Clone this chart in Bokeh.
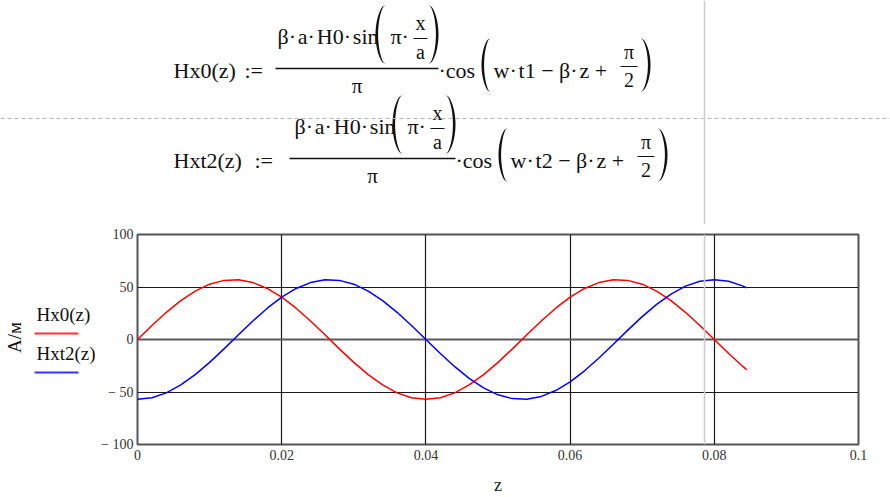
import numpy as np
from bokeh.plotting import figure
from bokeh.layouts import column, row
from bokeh.models import (Range1d, FixedTicker, CustomJSTickFormatter,
                          BoxAnnotation, Span)
from bokeh.core.properties import value
from bokeh.embed import file_html
from bokeh.resources import INLINE

# ---------------- data ----------------
z = [0.000, 0.002, 0.004, 0.006, 0.008, 0.010, 0.012, 0.014, 0.016, 0.018,
     0.020, 0.022, 0.024, 0.026, 0.028, 0.030, 0.032, 0.034, 0.036, 0.038,
     0.040, 0.042, 0.044, 0.046, 0.048, 0.050, 0.052, 0.054, 0.056, 0.058,
     0.060, 0.062, 0.064, 0.066, 0.068, 0.070, 0.072, 0.074, 0.076, 0.078,
     0.080, 0.082, 0.084, 0.0845]
hx0 = [0.0, 13.3, 25.9, 37.0, 46.1, 52.7, 56.3, 56.8, 54.2, 48.6,
       40.3, 29.8, 17.6, 4.5, -8.9, -21.8, -33.5, -43.3, -50.8, -55.4,
       -57.0, -55.4, -50.8, -43.3, -33.5, -21.8, -8.9, 4.5, 17.6, 29.8,
       40.3, 48.6, 54.2, 56.8, 56.3, 52.7, 46.1, 37.0, 25.9, 13.3,
       0.0, -13.3, -25.9, -28.8]
hxt2 = [-57.0, -55.4, -50.8, -43.3, -33.5, -21.8, -8.9, 4.5, 17.6, 29.8,
        40.3, 48.6, 54.2, 56.8, 56.3, 52.7, 46.1, 37.0, 25.9, 13.3,
        0.0, -13.3, -25.9, -37.0, -46.1, -52.7, -56.3, -56.8, -54.2, -48.6,
        -40.3, -29.8, -17.6, -4.5, 8.9, 21.8, 33.5, 43.3, 50.8, 55.4,
        57.0, 55.4, 50.8, 49.1]
series_names = ["Hx0(z)", "Hxt2(z)"]
series_colors = ["#ff0000", "#0000ff"]
x_ticks = [0, 0.02, 0.04, 0.06, 0.08, 0.1]
y_ticks = [-100, -50, 0, 50, 100]
x_label = "z"
y_label = "A/м"

SERIF = "Liberation Serif"
INK = "#111111"
HS = "\u200a"          # hair space after the multiplication dots
DOT = "·" + HS

# page geometry (pixels)
TOP_H = 224
CH_LEFT, CH_RIGHT, CH_TOP, CH_BOTTOM = 42, 32, 10, 53
LEFT_W = 95
PAGE_W, PAGE_H = 890, 497

# ---------------- formula area ----------------
top = figure(width=PAGE_W, height=TOP_H,
             x_range=Range1d(0, PAGE_W), y_range=Range1d(TOP_H, 0),
             x_axis_type=None, y_axis_type=None, toolbar_location=None,
             output_backend="svg", min_border=0, outline_line_color=None)
top.grid.visible = False
top.border_fill_color = "white"


def txt(fig, x, y, s, size, align="left", angle=0.0, baseline="alphabetic"):
    fig.text(x=[x], y=[y], text=[s], text_font=value(SERIF),
             text_font_size=f"{size}px", text_align=align, angle=angle,
             text_baseline=baseline, text_color=INK)


def hbar(x0, x1, y, w=1.3):
    top.segment(x0=[x0], y0=[y], x1=[x1], y1=[y], line_color=INK, line_width=w)


def paren(xl, xr, ytop, ybot, left=True, thick=2.6):
    t = np.linspace(0.0, 1.0, 48)
    ys = ytop + (ybot - ytop) * t
    b = np.sin(np.pi * t) ** 0.55
    span = xr - xl
    if left:
        outer = xr - span * b
        inner = outer + 0.5 + (thick - 0.5) * b
    else:
        outer = xl + span * b
        inner = outer - 0.5 - (thick - 0.5) * b
    xs = np.concatenate([outer, inner[::-1]])
    yy = np.concatenate([ys, ys[::-1]])
    top.patch(xs, yy, fill_color=INK, line_color=None)


def formula(lhs, lhs_x, assign_x, tname, dx, dy, bar_x0):
    base = 70 + dy
    txt(top, lhs_x, base, lhs, 22)
    txt(top, assign_x, base, ":=", 22)
    hbar(bar_x0, 438 + dx, 68 + dy)
    txt(top, 277 + dx, 36 + dy, f"β{DOT}a{DOT}H0{DOT}sin", 22)
    paren(375 + dx, 384 + dx, 5 + dy, 63 + dy, True)
    txt(top, 390 + dx, 36 + dy, "π" + DOT, 22)
    hbar(413 + dx, 427 + dx, 38 + dy, 1.1)
    txt(top, 420 + dx, 22 + dy, "x", 20, "center")
    txt(top, 420 + dx, 51 + dy, "a", 20, "center")
    paren(429 + dx, 438 + dx, 5 + dy, 63 + dy, False)
    txt(top, (bar_x0 + 438 + dx) / 2, 85 + dy, "π", 21, "center")
    txt(top, 438 + dx, base, "·cos", 22)
    paren(481 + dx, 489 + dx, 38 + dy, 91 + dy, True)
    txt(top, 493 + dx, base, f"w{DOT}{tname} − β{DOT}z +", 22)
    hbar(620 + dx, 637 + dx, 66 + dy, 1.1)
    txt(top, 628.5 + dx, 51 + dy, "π", 20, "center")
    txt(top, 628.5 + dx, 79 + dy, "2", 20, "center")
    paren(641 + dx, 650 + dx, 38 + dy, 91 + dy, False)


formula("Hx0(z)", 173, 244, "t1", 0, 0, 275)
formula("Hxt2(z)", 173, 254, "t2", 17, 90, 289)

top.segment(x0=[0], y0=[118], x1=[PAGE_W], y1=[118], line_color="#b4b4b4",
            line_width=1, line_dash="4 3")
top.segment(x0=[704], y0=[0], x1=[704], y1=[TOP_H], line_color="#cccccc", line_width=1.5)

# ---------------- left strip: axis title and legend ----------------
leftfig = figure(width=LEFT_W, height=PAGE_H - TOP_H,
                 x_range=Range1d(0, LEFT_W),
                 y_range=Range1d(PAGE_H - CH_BOTTOM, TOP_H + CH_TOP),
                 x_axis_type=None, y_axis_type=None, toolbar_location=None,
                 output_backend="svg", min_border_left=0, min_border_right=0,
                 min_border_top=CH_TOP, min_border_bottom=CH_BOTTOM,
                 outline_line_color=None)
leftfig.grid.visible = False
leftfig.border_fill_color = "white"
txt(leftfig, 14, 337, y_label, 19, "center", angle=np.pi / 2, baseline="middle")
for i, (name, col) in enumerate(zip(series_names, series_colors)):
    yc = 314 + 39 * i
    txt(leftfig, 36, yc, name, 19)
    leftfig.segment(x0=[34], y0=[yc + 19], x1=[78], y1=[yc + 19],
                    line_color=col, line_width=2, line_alpha=0.8)

# ---------------- chart ----------------
p = figure(width=PAGE_W - LEFT_W, height=PAGE_H - TOP_H,
           x_range=Range1d(0, 0.1), y_range=Range1d(-100, 100),
           toolbar_location=None, output_backend="svg",
           min_border_left=CH_LEFT, min_border_right=CH_RIGHT,
           min_border_top=CH_TOP, min_border_bottom=CH_BOTTOM)
p.border_fill_color = "white"
p.outline_line_color = "#555555"
p.outline_line_width = 2

for xs_, ys_, c in zip([z, z], [hx0, hxt2], series_colors):
    p.line(xs_, ys_, line_color=c, line_width=1.5)

for ax in (p.xaxis[0], p.yaxis[0]):
    ax.axis_line_color = None
    ax.major_tick_line_color = None
    ax.minor_tick_line_color = None
    ax.major_tick_out = 0
    ax.major_tick_in = 0
    ax.minor_tick_out = 0
    ax.major_label_text_font = SERIF
    ax.major_label_text_font_size = "14px"
    ax.major_label_text_color = "#333333"
    ax.axis_label_text_font = SERIF
    ax.axis_label_text_font_style = "normal"
    ax.axis_label_text_color = "#222222"

p.xaxis.ticker = FixedTicker(ticks=x_ticks)
p.yaxis.ticker = FixedTicker(ticks=y_ticks)
p.xaxis.formatter = CustomJSTickFormatter(code="return Number(tick.toFixed(4)).toString();")
p.yaxis.formatter = CustomJSTickFormatter(
    code="return tick < 0 ? '\u2212 ' + Math.abs(tick) : String(tick);")
p.xaxis.major_label_standoff = 5
p.yaxis.major_label_standoff = 4
p.xaxis.axis_label = x_label
p.xaxis.axis_label_text_font_size = "18px"
p.xaxis.axis_label_standoff = 12

p.xgrid.ticker = FixedTicker(ticks=x_ticks)
p.ygrid.ticker = FixedTicker(ticks=y_ticks)
for g in (p.xgrid[0], p.ygrid[0]):
    g.grid_line_color = "#1a1a1a"
    g.grid_line_width = 1.2

p.add_layout(Span(location=0, dimension="width", line_color="#5a5a5a",
                  line_width=2, level="underlay"))
# page boundary line crossing the chart
p.add_layout(BoxAnnotation(left=704 - LEFT_W - CH_LEFT - 0.8, right=704 - LEFT_W - CH_LEFT + 0.8,
                           left_units="screen", right_units="screen",
                           fill_color="#cccccc", fill_alpha=1, line_color=None))

layout = column(top, row(leftfig, p, spacing=0), spacing=0)
open("out.html", "w").write(file_html(layout, INLINE))
